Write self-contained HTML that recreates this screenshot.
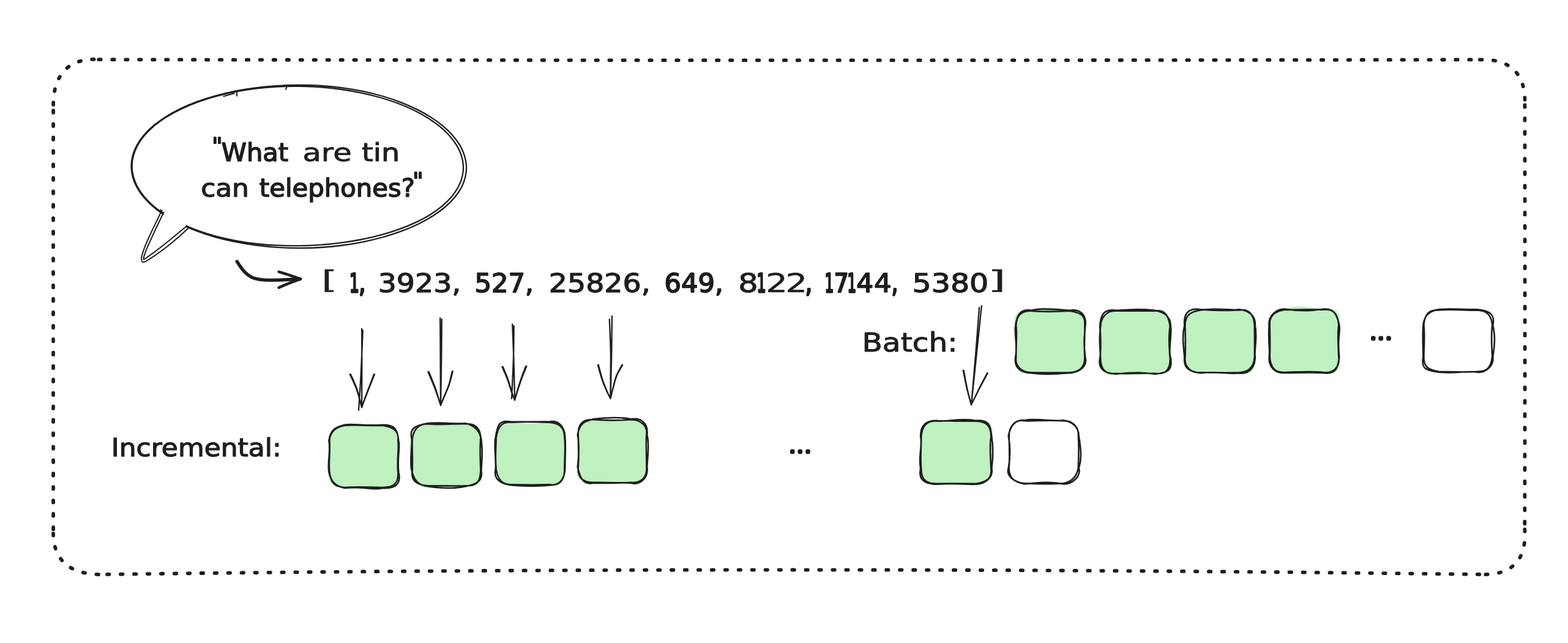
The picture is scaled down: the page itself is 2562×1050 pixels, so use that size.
<!DOCTYPE html>
<html lang="en"><head><meta charset="utf-8"><title>Incremental vs batch tokenization</title>
<style>html,body{margin:0;padding:0;background:#fff}body{width:2562px;height:1050px;overflow:hidden}svg{display:block;will-change:transform}text{font-family:"DejaVu Sans","Liberation Sans",sans-serif;fill:#1e1e1e;stroke:#1e1e1e;stroke-linejoin:round;stroke-linecap:round;white-space:pre}</style></head><body>
<svg width="2562" height="1050" viewBox="0 0 2562 1050" role="img" aria-label="Incremental versus batch tokenization diagram">
<rect width="2562" height="1050" fill="#ffffff"/>
<path d="M161.3 97.2Q1290 99.6 2418 97.4M2417.8 97.5C2469.2 95.6 2493.5 121.6 2491.4 171.3M2491.4 171.3Q2491.9 518 2491.3 864.3M2491.3 864.3C2494.7 916 2469.5 940.3 2417.3 938M2417.3 938Q1290 923 161 938.1M161 938.1C113.3 936.7 85 914.2 87.1 864.4M87.1 864.4Q86.9 518 87.1 170.9M87.1 170.9C87.4 121.5 113 93.8 161.3 97.2" fill="none" stroke="#1e1e1e" stroke-width="5.8" stroke-linecap="round" stroke-dasharray="3.45 18.5"/>
<path d="M762 271.3C762.3 277.1 761.7 282.9 760.4 288.6C759.1 294.3 757 300.1 754.1 305.7C751.2 311.3 747.4 316.9 743 322.3C738.5 327.6 733.3 332.9 727.3 338C721.4 343 714.7 347.9 707.4 352.5C700.2 357.1 692.2 361.6 683.7 365.7C675.2 369.8 666.1 373.7 656.6 377.2C647.1 380.8 637 384 626.6 387C616.2 389.9 605.4 392.5 594.3 394.8C583.2 397.1 571.7 399 560.1 400.5C548.5 402.1 536.6 403.2 524.6 404C512.7 404.8 500.5 405.1 488.5 405.1C476.5 405.1 464.3 404.6 452.4 403.8C440.5 403 428.6 401.8 417 400.3C405.4 398.7 394 396.8 382.9 394.6C371.8 392.3 361 389.7 350.6 386.8C340.2 383.9 330.2 380.6 320.7 377C311.2 373.5 302.2 369.6 293.8 365.5C285.3 361.3 277.4 356.9 270.2 352.3C263 347.7 256.4 342.8 250.5 337.7C244.6 332.7 239.4 327.4 234.9 322.1C230.4 316.7 226.6 311.2 223.6 305.6C220.6 300 218.3 294.3 216.7 288.6C215.2 282.9 214.5 277.1 214.5 271.3C214.5 265.5 215.3 259.7 216.8 254C218.3 248.3 220.7 242.6 223.7 237C226.8 231.4 230.7 225.9 235.2 220.6C239.8 215.2 245.1 210 251.1 205C257 200 263.7 195.2 271 190.6C278.3 186 286.2 181.7 294.7 177.6C303.1 173.5 312.2 169.7 321.7 166.2C331.2 162.7 341.2 159.5 351.6 156.6C361.9 153.8 372.7 151.2 383.7 149C394.7 146.8 406.2 145 417.7 143.5C429.2 142 441 140.8 452.8 140.1C464.6 139.3 476.6 138.9 488.5 138.9C500.4 138.9 512.4 139.2 524.3 140C536.1 140.8 547.9 141.9 559.4 143.4C570.8 145 582.2 146.9 593.1 149.2C604 151.4 614.7 154.1 624.9 157C635.1 160 645 163.3 654.3 166.8C663.6 170.4 672.4 174.3 680.7 178.4C689 182.5 696.8 186.8 703.9 191.4C711.1 195.9 717.7 200.7 723.6 205.7C729.5 210.6 734.9 215.8 739.5 221C744.1 226.3 748.1 231.7 751.4 237.2C754.6 242.8 757.2 248.4 758.9 254.1C760.7 259.8 761.8 265.5 762 271.3ZM757 271.3C757.2 276.9 756.7 282.7 755.3 288.3C754 293.9 751.8 299.5 748.9 305C746 310.5 742.3 316 737.9 321.2C733.4 326.5 728.2 331.6 722.3 336.6C716.4 341.5 709.7 346.2 702.5 350.7C695.3 355.2 687.3 359.4 678.9 363.4C670.5 367.3 661.5 371 652.1 374.4C642.7 377.8 632.8 380.9 622.6 383.6C612.4 386.4 601.8 388.8 591 391C580.2 393.1 569 394.9 557.8 396.3C546.5 397.8 535 399 523.5 399.8C511.9 400.6 500.2 401.2 488.5 401.3C476.8 401.5 465 401.3 453.3 400.7C441.6 400.2 429.8 399.3 418.3 398C406.8 396.7 395.4 395 384.3 392.9C373.3 390.8 362.4 388.3 352.1 385.6C341.7 382.8 331.6 379.6 322.2 376.1C312.7 372.7 303.6 368.8 295.2 364.8C286.7 360.7 278.8 356.3 271.6 351.8C264.4 347.2 257.7 342.4 251.8 337.4C245.9 332.4 240.7 327.2 236.2 321.8C231.7 316.5 227.9 311 224.8 305.5C221.8 299.9 219.5 294.2 218 288.5C216.4 282.8 215.6 277 215.6 271.3C215.6 265.6 216.4 259.8 218 254.1C219.5 248.4 221.8 242.7 224.9 237.1C227.9 231.6 231.8 226.1 236.3 220.8C240.9 215.5 246.2 210.3 252.1 205.3C258.1 200.3 264.8 195.5 272 191C279.3 186.4 287.2 182.1 295.7 178.1C304.1 174 313.2 170.2 322.6 166.8C332.1 163.3 342.1 160.2 352.4 157.3C362.7 154.5 373.5 152 384.5 149.9C395.5 147.8 406.8 146 418.3 144.6C429.7 143.2 441.5 142.2 453.2 141.6C464.9 140.9 476.8 140.7 488.5 140.8C500.2 141 512 141.5 523.6 142.3C535.2 143.2 546.7 144.5 557.9 146C569.1 147.6 580.2 149.5 590.9 151.8C601.6 154 612 156.6 622 159.5C632 162.4 641.7 165.6 650.8 169C659.9 172.5 668.7 176.3 676.8 180.2C685 184.2 692.6 188.5 699.7 192.9C706.7 197.4 713.3 202.1 719.1 206.9C725 211.8 730.2 216.8 734.8 222C739.4 227.1 743.3 232.5 746.5 237.9C749.7 243.3 752.2 248.8 754 254.4C755.7 260 756.7 265.7 757 271.3Z" fill="none" stroke="#1e1e1e" stroke-width="2.3" stroke-linecap="round" stroke-linejoin="round"/>
<path d="M386.9 151L387 156.4M383 152.2L365.4 157.2M468.6 141.5L467 146" fill="none" stroke="#1e1e1e" stroke-width="2.1" stroke-linecap="round"/>
<path d="M266.6 345.6C252 371 238 398 232.5 419C231 426 233 428.5 237 426.5C262 411 285 391 304.6 370.6L300 360L278 346Z" fill="#ffffff" stroke="none"/>
<path d="M264.4 343.5C251 372 236 399 231.5 419C230 427.5 233 429.5 238 427C262 412.5 285 394 306.8 373.4M267.4 346.5C256 371 243 397 237.4 412.3C234.5 420 233.6 424.5 235.5 423.5C258 409 282 388 305.2 368.9M262.3 342.5L267 350" fill="none" stroke="#1e1e1e" stroke-width="2" stroke-linecap="round" stroke-linejoin="round"/>
<text y="263" font-size="40"><tspan x="345.9" textLength="17.8" lengthAdjust="spacingAndGlyphs" stroke-width="1.7" font-size="38" y="250.8">&quot;</tspan><tspan x="361.8" textLength="109.4" lengthAdjust="spacingAndGlyphs" stroke-width="1.5" y="263">What</tspan> <tspan x="494.5" textLength="80.1" lengthAdjust="spacingAndGlyphs" stroke-width="0.75" y="263">are</tspan> <tspan x="591" textLength="62.2" lengthAdjust="spacingAndGlyphs" stroke-width="1.0" y="263">tin</tspan></text>
<text y="321.2" font-size="40"><tspan x="328.2" textLength="78.7" lengthAdjust="spacingAndGlyphs" stroke-width="1.25">can</tspan> <tspan x="423.8" textLength="254.2" lengthAdjust="spacingAndGlyphs" stroke-width="1.5" y="321.2">telephones?</tspan><tspan x="673.9" textLength="17.9" lengthAdjust="spacingAndGlyphs" stroke-width="1.7" font-size="38" y="307.8">&quot;</tspan></text>
<path d="M387.2 427C393.5 437 400 447.4 412.4 453.2C428 460 460 457 490.6 455.6" fill="none" stroke="#1e1e1e" stroke-width="5.4" stroke-linecap="round" stroke-linejoin="round"/>
<path d="M455.6 443.8C468 447.2 480 451.6 491 455.6C479 460 467 464.2 455.6 469.7" fill="none" stroke="#1e1e1e" stroke-width="4.5" stroke-linecap="round" stroke-linejoin="round"/>
<text y="476.6" font-size="43"><tspan x="525.2" textLength="25.9" lengthAdjust="spacingAndGlyphs" stroke-width="0.5" font-size="41.5" y="470.6">[</tspan> <tspan x="570.9" textLength="15.9" lengthAdjust="spacingAndGlyphs" stroke-width="3.25" y="476.6">1</tspan><tspan x="586.4" textLength="10.6" lengthAdjust="spacingAndGlyphs" stroke-width="3.25" y="476.6">,</tspan> <tspan x="617.7" textLength="135.7" lengthAdjust="spacingAndGlyphs" stroke-width="1.25" y="476.6">3923,</tspan> <tspan x="775.5" textLength="96.3" lengthAdjust="spacingAndGlyphs" stroke-width="1.8" y="476.6">527,</tspan> <tspan x="896.8" textLength="166" lengthAdjust="spacingAndGlyphs" stroke-width="1.25" y="476.6">25826,</tspan> <tspan x="1085.5" textLength="96.3" lengthAdjust="spacingAndGlyphs" stroke-width="1.8" y="476.6">649,</tspan> <tspan x="1206.3" textLength="32.5" lengthAdjust="spacingAndGlyphs" stroke-width="1.0" y="476.6">8</tspan><tspan x="1236.5" textLength="15.2" lengthAdjust="spacingAndGlyphs" stroke-width="3.25" y="476.6">1</tspan><tspan x="1251.3" textLength="35.6" lengthAdjust="spacingAndGlyphs" stroke-width="0.5" y="476.6">2</tspan><tspan x="1283.5" textLength="35.7" lengthAdjust="spacingAndGlyphs" stroke-width="0.5" y="476.6">2</tspan><tspan x="1315.9" textLength="10.8" lengthAdjust="spacingAndGlyphs" stroke-width="3.25" y="476.6">,</tspan> <tspan x="1347.4" textLength="14.9" lengthAdjust="spacingAndGlyphs" stroke-width="3.25" y="476.6">1</tspan><tspan x="1362.7" textLength="24" lengthAdjust="spacingAndGlyphs" stroke-width="2.5" y="476.6">7</tspan><tspan x="1384.6" textLength="14.7" lengthAdjust="spacingAndGlyphs" stroke-width="3.25" y="476.6">1</tspan><tspan x="1399.2" textLength="27.9" lengthAdjust="spacingAndGlyphs" stroke-width="1.8" y="476.6">4</tspan><tspan x="1428" textLength="28.7" lengthAdjust="spacingAndGlyphs" stroke-width="1.5" y="476.6">4</tspan><tspan x="1457.1" textLength="9.9" lengthAdjust="spacingAndGlyphs" stroke-width="3.25" y="476.6">,</tspan> <tspan x="1490.6" textLength="124.7" lengthAdjust="spacingAndGlyphs" stroke-width="1.25" y="476.6">5380</tspan><tspan x="1614.4" textLength="28.8" lengthAdjust="spacingAndGlyphs" stroke-width="0.5" font-size="41.5" y="470.6">]</tspan></text>
<path d="M591.1 536.9C591.1 547.4 591.3 578.6 591.3 600C591.3 621.4 591.1 654.6 591.1 665.5M592.8 539.4C592.3 551.4 590.8 589.8 589.7 611.5C588.6 633.2 586.6 660.1 586 669.8M571.7 611.1C573.3 614.6 578.6 625.4 581.2 632C583.8 638.6 585.6 645.3 587.2 650.9C588.9 656.5 590.5 663.1 591.1 665.5M572.9 611.1C574.4 614.6 579.5 625.4 582 632C584.5 638.6 586.1 645.3 587.6 650.9C589.1 656.5 590.5 663.1 591.1 665.5M612 611.1C610.3 615.5 604.5 630.2 601.7 637.2C599 644.2 597.3 648.3 595.5 653C593.7 657.7 591.8 663.4 591.1 665.5M611.1 611.1C609.4 615.5 603.8 630.2 601.1 637.2C598.5 644.2 596.9 648.3 595.2 653C593.5 657.7 591.8 663.4 591.1 665.5" fill="none" stroke="#1e1e1e" stroke-width="2.3" stroke-linecap="round" stroke-linejoin="round"/>
<path d="M719.2 519.4C719.3 531.2 719.5 566.2 719.6 590C719.7 613.8 719.9 650 720 662M721.8 521.4C721.7 532.8 721.5 566.6 721.2 590C720.9 613.4 720.2 650 720 662M699.5 607.2C701.2 611.3 707.1 625.2 709.8 632C712.5 638.8 713.8 643 715.5 648C717.2 653 719.2 659.7 720 662M700.7 607.2C702.4 611.3 708.1 625.2 710.6 632C713.1 638.8 714.3 643 715.9 648C717.5 653 719.3 659.7 720 662M739.8 606.3C738.8 610 736.2 621.5 733.8 628.6C731.4 635.8 727.5 643.6 725.2 649.2C722.9 654.8 720.9 659.9 720 662M739 606.3C738 610 735.6 621.5 733.3 628.6C730.9 635.8 727.1 643.6 724.9 649.2C722.7 654.8 720.8 659.9 720 662" fill="none" stroke="#1e1e1e" stroke-width="2.3" stroke-linecap="round" stroke-linejoin="round"/>
<path d="M837.2 529.5C837.6 539.6 838.9 569.3 839.5 590C840.1 610.7 840.8 642.9 841.1 653.5M839.7 532.2C839.6 541.1 839.5 565.9 838.9 585.7C838.3 605.5 836.5 640 836 650.9M820.5 598.9C822 602.4 826.8 613 829.4 620C832 627 834 635 836 640.6C838 646.2 840.2 651.4 841.1 653.5M821.7 598.9C823.1 602.4 827.8 613 830.2 620C832.6 627 834.6 635 836.4 640.6C838.2 646.2 840.3 651.4 841.1 653.5M860.3 598.1C858.9 601.8 854.3 612.9 851.7 620C849.1 627.1 846.7 635 844.9 640.6C843.1 646.2 841.7 651.4 841.1 653.5M859.1 598.1C857.7 601.8 853.3 612.9 850.9 620C848.5 627.1 846.1 635 844.5 640.6C842.9 646.2 841.7 651.4 841.1 653.5" fill="none" stroke="#1e1e1e" stroke-width="2.3" stroke-linecap="round" stroke-linejoin="round"/>
<path d="M1000 516.3C999.9 526.9 999.6 557.6 999.2 580C998.8 602.4 997.8 639.1 997.5 650.9M995.8 521.4C996.1 530.4 997.5 559 997.8 575.4C998.1 591.8 997.6 607.4 997.6 620C997.6 632.6 997.5 645.8 997.5 650.9M976.9 596C978 600 981.2 612.6 983.8 620C986.4 627.4 990 635.5 992.3 640.6C994.6 645.8 996.6 649.2 997.5 650.9M977.9 596C979 600 982 612.6 984.5 620C986.9 627.4 990.5 635.5 992.6 640.6C994.8 645.8 996.7 649.2 997.5 650.9M1017.2 596C1015.6 598.9 1010.4 606.9 1007.8 613.2C1005.2 619.5 1003.5 627.4 1001.8 633.7C1000.1 640 998.2 648 997.5 650.9M1016.4 596C1014.9 598.9 1009.7 606.9 1007.3 613.2C1004.8 619.5 1003.2 627.4 1001.5 633.7C999.9 640 998.2 648 997.5 650.9" fill="none" stroke="#1e1e1e" stroke-width="2.3" stroke-linecap="round" stroke-linejoin="round"/>
<path d="M1603.8 499.5C1602.4 512.9 1598.3 553 1595.5 580C1592.7 607 1588.4 647.7 1587 661.2M1600 502.5C1599 515.4 1596.2 553.5 1594 580C1591.8 606.5 1588.2 647.7 1587 661.2M1573.8 605C1574.8 610 1577.8 625.6 1580 635C1582.2 644.4 1585.8 656.8 1587 661.2M1574.6 605C1575.6 610 1578.3 625.6 1580.4 635C1582.5 644.4 1585.9 656.8 1587 661.2M1613.8 609.2C1611.5 613.5 1604.5 626.3 1600 635C1595.5 643.7 1589.2 656.8 1587 661.2M1613 609.2C1610.8 613.5 1603.9 626.3 1599.6 635C1595.3 643.7 1589.1 656.8 1587 661.2" fill="none" stroke="#1e1e1e" stroke-width="2.3" stroke-linecap="round" stroke-linejoin="round"/>
<path d="M563.2 693.7C574.6 695.2 604.5 690 625.5 693.7C637.5 693.7 645.7 699 651.3 719.5C650.4 737.1 645.1 755 651.3 771.2C653.8 782.2 646.9 803 625.5 797C612.2 803.5 584.9 796.1 563.2 797C551.6 796.5 532.5 788.7 537.4 771.2C540 752.6 533.9 734.4 537.4 719.5C539.9 707.8 549.3 690.8 563.2 693.7Z" fill="#bff1c1" stroke="none"/>
<path d="M563.2 693.7C577.5 690.9 594.9 696.4 625.5 693.7C642.8 693.7 648.9 697.7 651.3 719.5M651.3 719.5C654.1 731.2 648.9 743.6 651.3 771.2C655.9 790.6 646.1 798.1 625.5 797M625.5 797C609.1 801.2 598.5 793.8 563.2 797C548.9 793.5 541.3 788 537.4 771.2M537.4 771.2C534.7 750.9 540.9 736.7 537.4 719.5C540 699.6 550.3 697.3 563.2 693.7M563.2 694.7C586.1 692.9 606.8 696.1 625.5 694.7C640.4 697 652.4 702.5 650.3 719.5M650.3 719.5C652.5 733.1 648.1 745.9 650.3 771.2C651.5 790.4 642 796 625.5 796M625.5 796C606.7 795.9 587.4 794.2 563.2 796C544.9 795.2 540.8 786.9 538.4 771.2M538.4 771.2C536.6 756.1 539.9 737.6 538.4 719.5C539.4 703.9 548.9 697.2 563.2 694.7" fill="none" stroke="#1e1e1e" stroke-width="2.6" stroke-linecap="round"/>
<path d="M698.5 691.2C724.5 694.1 736.6 691 760.5 691.2C781.8 692.2 783.3 695.7 786.3 717C786 733 782.2 759.3 786.3 768.5C789.9 786 783.8 795.5 760.5 794.3C744 795.6 722.2 792.9 698.5 794.3C685.8 795.4 678.3 782.9 672.7 768.5C674.4 751.5 666.6 730.1 672.7 717C673.1 705 677.7 689 698.5 691.2Z" fill="#bff1c1" stroke="none"/>
<path d="M698.5 691.2C727.4 688.9 743.6 693.2 760.5 691.2C776.3 694.8 783.8 704 786.3 717M786.3 717C788.1 734.5 788.3 740 786.3 768.5C789.8 786.5 776 791.4 760.5 794.3M760.5 794.3C740.1 799.1 715.2 796.7 698.5 794.3C682.3 792.1 676.9 784 672.7 768.5M672.7 768.5C668.9 753.2 673.8 728.9 672.7 717C668.6 700.1 677 695.1 698.5 691.2M698.5 692.2C717.9 694.2 735 691.7 760.5 692.2C777.5 691.1 785.8 700.7 785.3 717M785.3 717C783.6 734 784.8 746.2 785.3 768.5C784.8 787.4 779.5 793.4 760.5 793.3M760.5 793.3C741.6 794 725.1 793 698.5 793.3C681.2 791.6 671.1 785.2 673.7 768.5M673.7 768.5C674.4 747.9 673.1 733 673.7 717C676 700.2 683.9 692.2 698.5 692.2" fill="none" stroke="#1e1e1e" stroke-width="2.6" stroke-linecap="round"/>
<path d="M835.6 688.7C844.7 689.2 863.1 695.7 897.4 688.7C911.9 688.2 919.1 696.3 923.3 714.6C924.9 730.2 927.5 738.9 923.3 766.4C918.6 783.1 921.2 797.2 897.4 792.3C873.8 798.7 851.7 792 835.6 792.3C815.1 793.1 815.5 782.4 809.7 766.4C806 752.5 812.6 728.3 809.7 714.6C814.4 699.7 819.9 682.4 835.6 688.7Z" fill="#bff1c1" stroke="none"/>
<path d="M835.6 688.7C855.6 689.1 882.5 688.5 897.4 688.7C911.3 685.9 922.8 694.8 923.3 714.6M923.3 714.6C924.7 728.9 922.9 746.9 923.3 766.4C922 779.6 917.3 793.1 897.4 792.3M897.4 792.3C875.6 795.3 855.2 793.5 835.6 792.3C819.8 790.6 805.9 783.4 809.7 766.4M809.7 766.4C810.9 745.7 806.6 729.2 809.7 714.6C812.6 694.5 814.8 685 835.6 688.7M835.6 689.7C849.9 688.8 860.7 688.6 897.4 689.7C912.9 691.2 922.6 696.7 922.3 714.6M922.3 714.6C924.1 724.9 922.8 739.5 922.3 766.4C922.8 785.5 912.2 793.9 897.4 791.3M897.4 791.3C885.8 791.6 873.5 792.1 835.6 791.3C821.5 791.5 813.4 784.4 810.7 766.4M810.7 766.4C808.8 750.5 810.1 737.1 810.7 714.6C813.1 700.5 817.4 687.5 835.6 689.7" fill="none" stroke="#1e1e1e" stroke-width="2.6" stroke-linecap="round"/>
<path d="M969.8 684.2C980.2 687.9 998.6 687.4 1031.1 684.2C1045.5 685.1 1061.7 694.3 1057.3 710.3C1052.8 726 1053.7 731.3 1057.3 762.6C1051.3 785.1 1049.6 787.3 1031.1 788.8C1016.4 787.5 991.5 790 969.8 788.8C950.7 784.7 938.7 784.5 943.7 762.6C946.1 756.1 940.4 739.1 943.7 710.3C944.3 696.6 947.2 683.9 969.8 684.2Z" fill="#bff1c1" stroke="none"/>
<path d="M969.8 684.2C995.4 681.8 1013.4 680.8 1031.1 684.2C1051 681 1059.2 695 1057.3 710.3M1057.3 710.3C1061.7 725.3 1057.4 751.5 1057.3 762.6C1059.5 779.6 1046.8 793 1031.1 788.8M1031.1 788.8C1014.7 787.6 1002.8 789.6 969.8 788.8C951.2 792.4 947.6 778.4 943.7 762.6M943.7 762.6C945.7 745.6 947.1 727.5 943.7 710.3C947 690.8 954.7 688.1 969.8 684.2M969.8 685.2C981.6 685.5 997.4 687.8 1031.1 685.2C1045.9 685.2 1059 695 1056.3 710.3M1056.3 710.3C1054.9 727 1056.7 741.9 1056.3 762.6C1057.9 778.9 1047.7 789.6 1031.1 787.8M1031.1 787.8C1015.5 789.6 999.3 787.3 969.8 787.8C950.6 787.5 943.7 779.1 944.7 762.6M944.7 762.6C946.2 745.6 945.4 726.1 944.7 710.3C944.2 693 951.5 684.1 969.8 685.2" fill="none" stroke="#1e1e1e" stroke-width="2.6" stroke-linecap="round"/>
<path d="M1530.2 686.7C1538.3 692.4 1558.4 688.9 1594.3 686.7C1612.6 681.4 1626.6 692.8 1620.3 712.7C1624.9 733.9 1625.6 753.2 1620.3 764.8C1623.5 775.7 1611 787.3 1594.3 790.8C1570.4 790.9 1549.9 792 1530.2 790.8C1511.6 784.7 1500.9 781.3 1504.2 764.8C1497.8 754.4 1501.8 742.7 1504.2 712.7C1501.6 695.6 1513.8 688.9 1530.2 686.7Z" fill="#bff1c1" stroke="none"/>
<path d="M1530.2 686.7C1545.2 689.7 1566.8 682.1 1594.3 686.7C1615.8 684.5 1618.5 694.7 1620.3 712.7M1620.3 712.7C1623 729.4 1622.6 746.9 1620.3 764.8C1623.3 779.2 1610.3 790.5 1594.3 790.8M1594.3 790.8C1576.4 791.7 1565.2 788.1 1530.2 790.8C1509.8 790.4 1500.2 782.7 1504.2 764.8M1504.2 764.8C1500.4 746 1507.5 730.7 1504.2 712.7C1503.5 695.9 1512.3 686.6 1530.2 686.7M1530.2 687.7C1551 687.3 1566.7 687.8 1594.3 687.7C1612.7 688.4 1619.1 695.9 1619.3 712.7M1619.3 712.7C1617.4 723.7 1617.5 739 1619.3 764.8C1621.4 782.9 1609.4 787.9 1594.3 789.8M1594.3 789.8C1569.6 789.9 1544.5 789.2 1530.2 789.8C1512.5 789.8 1505 782.5 1505.2 764.8M1505.2 764.8C1503.6 750.9 1505 736 1505.2 712.7C1506.3 696.4 1514.1 686.2 1530.2 687.7" fill="none" stroke="#1e1e1e" stroke-width="2.6" stroke-linecap="round"/>
<path d="M1673.7 686.2C1696.7 682.5 1720.3 689 1736.8 686.2C1749.9 687.9 1762.8 696.1 1762.8 712.2M1762.8 712.2C1766.5 735.2 1767.6 748.6 1762.8 764.3C1766.8 779.1 1750.7 791.2 1736.8 790.3M1736.8 790.3C1716.6 785.8 1694.7 788.2 1673.7 790.3C1656.8 786.8 1643.5 777.1 1647.7 764.3M1647.7 764.3C1650.9 746.9 1650.8 728.2 1647.7 712.2C1651.2 692.6 1660.4 685.1 1673.7 686.2M1673.7 687.2C1689.8 688 1710.7 685.7 1736.8 687.2C1752.9 686.5 1763.4 698.2 1761.8 712.2M1761.8 712.2C1763.2 725.6 1762.8 735.3 1761.8 764.3C1759.3 778.7 1752 787 1736.8 789.3M1736.8 789.3C1724.3 790.3 1709.4 791 1673.7 789.3C1658.1 788.5 1648.5 780.4 1648.7 764.3M1648.7 764.3C1649.3 755.7 1649.7 744.2 1648.7 712.2C1648.6 696 1658.8 684.6 1673.7 687.2" fill="none" stroke="#1e1e1e" stroke-width="2.6" stroke-linecap="round"/>
<path d="M1684.9 506.7C1699.2 502 1722.9 499.9 1747.6 506.7C1767.9 504.7 1769.3 513 1773.3 532.4C1773 541 1770.2 557.7 1773.3 583.6C1768.6 603.7 1759.8 608.8 1747.6 609.3C1733.2 609.1 1712.5 604.6 1684.9 609.3C1672.5 615.4 1656.1 603.5 1659.2 583.6C1659.2 568.7 1657.7 540.5 1659.2 532.4C1655 509.1 1662.7 508.5 1684.9 506.7Z" fill="#bff1c1" stroke="none"/>
<path d="M1684.9 506.7C1699.3 503.5 1706.7 504.4 1747.6 506.7C1767.1 503.5 1775.5 516.7 1773.3 532.4M1773.3 532.4C1772.5 548.6 1769.6 551.3 1773.3 583.6C1777.3 599.9 1762 607.7 1747.6 609.3M1747.6 609.3C1727.9 609.7 1713.8 613.1 1684.9 609.3C1670.9 608 1656.5 603.8 1659.2 583.6M1659.2 583.6C1663.1 564.6 1657.1 545.6 1659.2 532.4C1661.3 512.4 1669 504.1 1684.9 506.7M1684.9 507.7C1697.5 508.6 1712.6 510 1747.6 507.7C1766.7 510.4 1773.9 514.8 1772.3 532.4M1772.3 532.4C1773.2 542.5 1771 558.4 1772.3 583.6C1772.9 601.2 1761.9 607.7 1747.6 608.3M1747.6 608.3C1722.3 608.7 1701.1 608.7 1684.9 608.3C1670 608.6 1658.1 597.9 1660.2 583.6M1660.2 583.6C1659.8 564.3 1662.2 542.8 1660.2 532.4C1660.2 517.5 1667.2 507 1684.9 507.7" fill="none" stroke="#1e1e1e" stroke-width="2.6" stroke-linecap="round"/>
<path d="M1823.2 506.7C1850.4 509 1862.3 511.3 1886.8 506.7C1907.6 502 1906.3 511.2 1912.8 532.7C1918.9 539.6 1910.3 548.7 1912.8 584.8C1919.3 601.4 1899.3 604.9 1886.8 610.8C1865.7 611.5 1838.8 614.3 1823.2 610.8C1808.1 617.4 1797.3 607 1797.2 584.8C1804.1 569.2 1793.6 560.4 1797.2 532.7C1798.5 512.6 1810.1 511.4 1823.2 506.7Z" fill="#bff1c1" stroke="none"/>
<path d="M1823.2 506.7C1840.6 506.9 1852.6 503.3 1886.8 506.7C1904.2 509.9 1913 519.5 1912.8 532.7M1912.8 532.7C1915 548.9 1908.2 574 1912.8 584.8C1916 605.2 1908.3 608.1 1886.8 610.8M1886.8 610.8C1869.5 608.3 1854.9 607.3 1823.2 610.8C1801.6 609.4 1794.1 600.4 1797.2 584.8M1797.2 584.8C1799.7 565.3 1798.2 547.1 1797.2 532.7C1798 512.9 1804.3 504.3 1823.2 506.7M1823.2 507.7C1839 507.7 1860.3 507.5 1886.8 507.7C1904.6 505.4 1909.4 516.9 1911.8 532.7M1911.8 532.7C1910.2 541.5 1909.3 556.6 1911.8 584.8C1912.8 604 1903.4 612.3 1886.8 609.8M1886.8 609.8C1863.1 608.6 1838.9 610.9 1823.2 609.8C1804.9 611.7 1798.3 602 1798.2 584.8M1798.2 584.8C1796.9 563.5 1795.9 548.9 1798.2 532.7C1798.7 518.6 1808.1 506.7 1823.2 507.7" fill="none" stroke="#1e1e1e" stroke-width="2.6" stroke-linecap="round"/>
<path d="M1961.4 505.4C1982.3 503.1 1991 512 2024.8 505.4C2041.1 505.4 2045.8 511 2050.8 531.4C2049.4 549.6 2052.2 555.3 2050.8 583.3C2052.3 607.1 2044.6 610.6 2024.8 609.3C2010.8 606.8 2003.8 604.2 1961.4 609.3C1944.8 606.1 1931.5 607.2 1935.4 583.3C1933.9 560.8 1941 539.9 1935.4 531.4C1933.7 514.9 1939 505.1 1961.4 505.4Z" fill="#bff1c1" stroke="none"/>
<path d="M1961.4 505.4C1979.3 506.4 2004.8 508.8 2024.8 505.4C2039.3 506.8 2051.9 514.1 2050.8 531.4M2050.8 531.4C2054.9 553.1 2049 570.5 2050.8 583.3C2050.8 596.5 2043.1 611.5 2024.8 609.3M2024.8 609.3C2007.2 611.5 1985.1 605.8 1961.4 609.3C1948.5 607.3 1932.8 604.3 1935.4 583.3M1935.4 583.3C1933.4 563.1 1931.3 547.2 1935.4 531.4C1933.6 513.1 1941.2 501.8 1961.4 505.4M1961.4 506.4C1974.8 504.4 1986 504.3 2024.8 506.4C2040.5 504 2048.6 513.1 2049.8 531.4M2049.8 531.4C2049.8 543.1 2050.1 557.5 2049.8 583.3C2048.7 597.6 2041.4 607.6 2024.8 608.3M2024.8 608.3C2000 609 1979.4 607.9 1961.4 608.3C1946.9 609.4 1934.5 599.9 1936.4 583.3M1936.4 583.3C1937.4 567.6 1936.7 549.5 1936.4 531.4C1936.4 513.4 1946.8 508.9 1961.4 506.4" fill="none" stroke="#1e1e1e" stroke-width="2.6" stroke-linecap="round"/>
<path d="M2099.8 504.7C2108.5 499.5 2126 498.9 2162.2 504.7C2182.9 501.5 2192.8 508.7 2188.3 530.8C2182.5 543.6 2192 563 2188.3 582.9C2189.7 606.7 2185.8 612.4 2162.2 609C2146.7 603.6 2124.3 609.8 2099.8 609C2081.5 605.2 2070.2 597.9 2073.7 582.9C2069.7 575.5 2077.7 566.6 2073.7 530.8C2077.1 512.6 2079.4 505.7 2099.8 504.7Z" fill="#bff1c1" stroke="none"/>
<path d="M2099.8 504.7C2122.5 507.8 2136.7 508.4 2162.2 504.7C2178.9 502.9 2184.6 513.5 2188.3 530.8M2188.3 530.8C2190.6 545.1 2184.3 550.8 2188.3 582.9C2186 600.8 2182.7 611.8 2162.2 609M2162.2 609C2136.2 607.5 2111.2 609.5 2099.8 609C2083.4 609.7 2072.7 599.6 2073.7 582.9M2073.7 582.9C2075.7 572.8 2071.4 553.4 2073.7 530.8C2071.7 517.1 2085.1 503.8 2099.8 504.7M2099.8 505.7C2120.1 506.4 2146.4 504.9 2162.2 505.7C2178.7 503.7 2186.1 512.6 2187.3 530.8M2187.3 530.8C2185 544.4 2186.4 556.6 2187.3 582.9C2189.7 598.6 2179.1 610.2 2162.2 608M2162.2 608C2142 606.1 2119.4 607.4 2099.8 608C2082.1 609.5 2076 598.8 2074.7 582.9M2074.7 582.9C2075.5 567.6 2075.1 552.4 2074.7 530.8C2073.4 514.1 2085.7 507.7 2099.8 505.7" fill="none" stroke="#1e1e1e" stroke-width="2.6" stroke-linecap="round"/>
<path d="M2351 505.4C2373.8 503.1 2394.1 505.7 2413.7 505.4C2433 507.7 2443.2 511.9 2439.3 531M2439.3 531C2441.8 543.7 2443.7 554.5 2439.3 582.2C2441.3 598.1 2426.4 609.4 2413.7 607.8M2413.7 607.8C2397.4 604.5 2383.4 610.8 2351 607.8C2330.1 604.7 2321.5 603 2325.4 582.2M2325.4 582.2C2325 565.4 2324 548.4 2325.4 531C2326.3 518.2 2334 507.8 2351 505.4M2351 506.4C2374.9 504.3 2397.8 507.8 2413.7 506.4C2429.8 507.4 2437 515.1 2438.3 531M2438.3 531C2436.4 544.2 2436.7 558 2438.3 582.2C2436.5 596.6 2432.3 607.4 2413.7 606.8M2413.7 606.8C2399.5 608.4 2387.4 606.9 2351 606.8C2334 604.3 2325.8 598.7 2326.4 582.2M2326.4 582.2C2326.8 564.7 2328.2 547.2 2326.4 531C2327.9 512.3 2334.9 505.6 2351 506.4" fill="none" stroke="#1e1e1e" stroke-width="2.6" stroke-linecap="round"/>
<text y="744.6" font-size="41.5"><tspan x="181.8" textLength="278" lengthAdjust="spacingAndGlyphs" stroke-width="1.25">Incremental:</tspan></text>
<text y="574.2" font-size="43"><tspan x="1408.5" textLength="156.2" lengthAdjust="spacingAndGlyphs" stroke-width="1.0">Batch:</tspan></text>
<text x="1293.4" y="738" font-size="8" letter-spacing="10.15" stroke-width="7">...</text>
<text x="2242.4" y="553" font-size="8" letter-spacing="10.15" stroke-width="7">...</text>
</svg></body></html>
